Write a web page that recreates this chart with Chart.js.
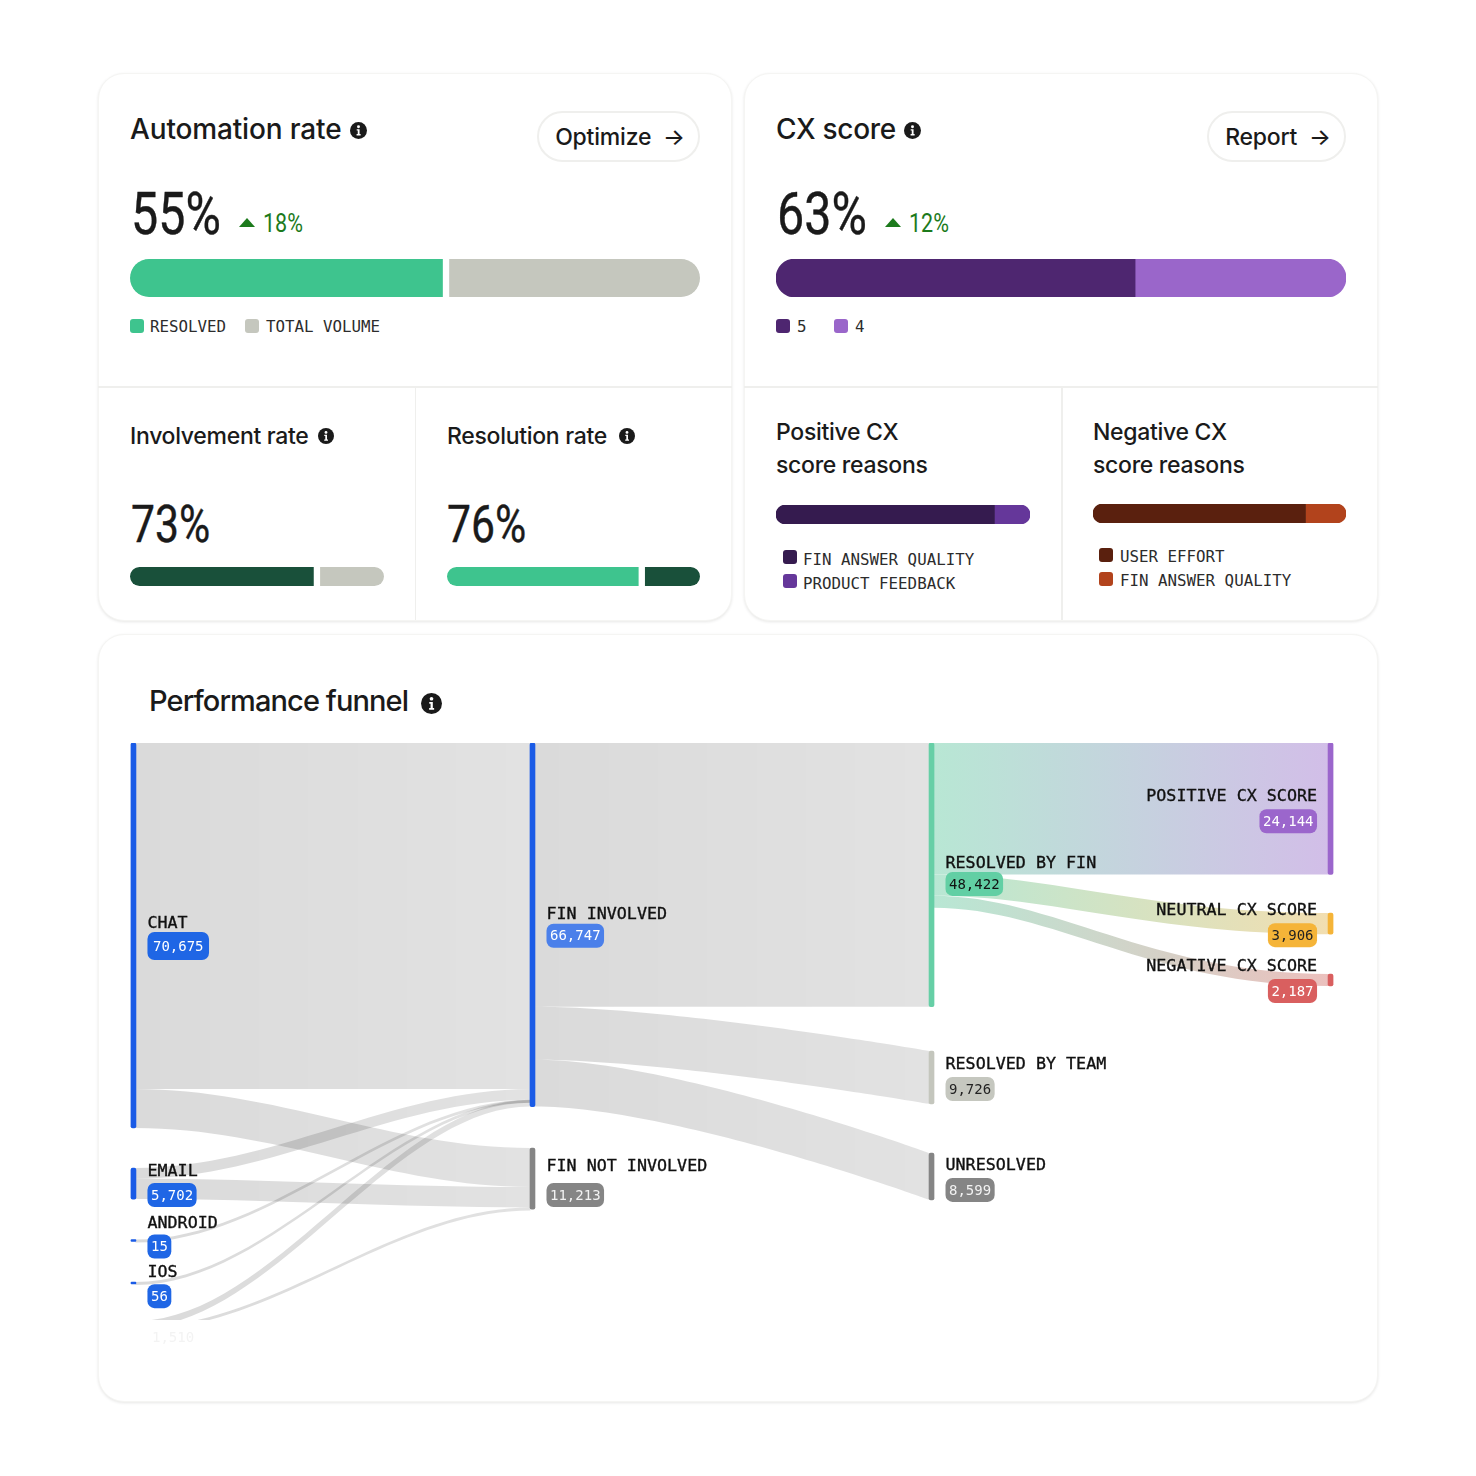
<!DOCTYPE html>
<html>
<head>
<meta charset="utf-8">
<script src="https://cdn.jsdelivr.net/npm/chart.js@4/dist/chart.umd.min.js"></script>
<style>
  html, body { margin: 0; background: #fff; }
  #page { position: relative; width: 1476px; height: 1476px; overflow: hidden; color: #1a1a1a; font-family: Inter, sans-serif; }
  .card { position: absolute; background: #fff; border-radius: 26px; border: 1px solid #f5f5f3; box-sizing: border-box;
          box-shadow: 0 1px 3px rgba(20,20,10,.10); }
  .line { position: absolute; background: #efefed; }
  .t { position: absolute; white-space: nowrap; }
  .title { font-weight: 500; font-size: 28px; line-height: 34px; letter-spacing: -.15px; }
  .sub { font-weight: 500; font-size: 23px; line-height: 33px; letter-spacing: -.3px; }
  .big { font-family: Roboto, sans-serif; font-weight: 400; transform-origin: left center; transform: scaleX(.82); -webkit-text-stroke: .4px #1a1a1a; }
  .delta { font-family: Roboto, sans-serif; font-weight: 400; font-size: 25px; line-height: 30px; color: #1c7a1c;
           transform-origin: left center; transform: scaleX(.86); }
  .btn { position: absolute; box-sizing: border-box; height: 51px; padding-left: 3px; border: 2px solid #efefed; border-radius: 26px; background: #fff;
         font-weight: 500; font-size: 23px; line-height: 48px; text-align: center; letter-spacing: -.2px; white-space: nowrap; }
  .sw { position: absolute; width: 14px; height: 14px; border-radius: 3px; }
  .lg { position: absolute; white-space: nowrap; font-family: "DejaVu Sans Mono", monospace; font-size: 15.8px; line-height: 18px; color: #2c2c2c; }
  canvas { position: absolute; }
  svg { position: absolute; }
</style>
</head>
<body>
<div id="page">
  <div class="card" style="left:98px;top:73px;width:634px;height:548px"></div>
  <div class="card" style="left:744px;top:73px;width:634px;height:548px"></div>
  <div class="card" style="left:98px;top:634px;width:1280px;height:768px"></div>

  <div class="line" style="left:98px;top:386px;width:634px;height:2px"></div>
  <div class="line" style="left:744px;top:386px;width:634px;height:2px"></div>
  <div class="line" style="left:415px;top:388px;width:1px;height:232px"></div>
  <div class="line" style="left:1061px;top:388px;width:2px;height:232px"></div>

  <div class="t title" style="left:130px;top:112px">Automation rate</div>
  <div class="t title" style="left:776px;top:112px;letter-spacing:-.3px">CX score</div>
  <div class="btn" style="left:537px;top:111px;width:163px">Optimize&nbsp; →</div>
  <div class="btn" style="left:1207px;top:111px;width:139px">Report&nbsp; →</div>

  <div class="t big" style="left:131px;top:180px;font-size:59px;line-height:68px">55%</div>
  <div class="t big" style="left:777px;top:180px;font-size:59px;line-height:68px">63%</div>
  <div class="t delta" style="left:263px;top:209px">18%</div>
  <div class="t delta" style="left:909px;top:209px">12%</div>

  <div class="t sub" style="left:130px;top:420px">Involvement rate</div>
  <div class="t sub" style="left:447px;top:420px">Resolution rate</div>
  <div class="t sub" style="left:776px;top:416px">Positive CX</div>
  <div class="t sub" style="left:776px;top:449px">score reasons</div>
  <div class="t sub" style="left:1093px;top:416px">Negative CX</div>
  <div class="t sub" style="left:1093px;top:449px">score reasons</div>

  <div class="t big" style="left:131px;top:495px;font-size:52px;line-height:60px">73%</div>
  <div class="t big" style="left:447px;top:495px;font-size:52px;line-height:60px">76%</div>

  <div class="t title" style="left:149px;top:684px;letter-spacing:-.9px;font-size:29px">Performance funnel</div>

  <canvas id="automationBar" style="left:130px;top:259px"></canvas>
  <canvas id="cxBar" style="left:776px;top:259px"></canvas>
  <canvas id="involvementBar" style="left:130px;top:567px"></canvas>
  <canvas id="resolutionBar" style="left:447px;top:567px"></canvas>
  <canvas id="positiveBar" style="left:776px;top:505px"></canvas>
  <canvas id="negativeBar" style="left:1093px;top:504px"></canvas>
  <canvas id="funnel" style="left:98px;top:634px"></canvas>
</div>

<script>
// ---- top cards: share of each bar
const automationShares = [55, 45];
const automationLabels = ["RESOLVED", "TOTAL VOLUME"];
const cxShares = [63, 37];
const cxLabels = ["5", "4"];
const involvementShares = [73, 27];
const resolutionShares = [76, 24];
const positiveShares = [86, 14];
const positiveLabels = ["FIN ANSWER QUALITY", "PRODUCT FEEDBACK"];
const negativeShares = [84, 16];
const negativeLabels = ["USER EFFORT", "FIN ANSWER QUALITY"];

// ---- funnel nodes (tops are in conversations)
const nodeNames = ["CHAT", "EMAIL", "ANDROID", "IOS", "", "FIN INVOLVED", "FIN NOT INVOLVED",
    "RESOLVED BY FIN", "RESOLVED BY TEAM", "UNRESOLVED", "POSITIVE CX SCORE", "NEUTRAL CX SCORE", "NEGATIVE CX SCORE"];
const nodeColumns = [0, 0, 0, 0, 0, 1, 1, 2, 2, 2, 3, 3, 3];
const nodeValues = [70675, 5702, 15, 56, 1510, 66747, 11213, 48422, 9726, 8599, 24144, 3906, 2187];
const nodeTops = [0, 78025, 91151, 98954, 106113, 0, 74353, 0, 56545, 75270, 0, 31210, 42409];

// ---- funnel links (indexes into the node arrays)
const linkSources = [0, 0, 1, 1, 2, 3, 4, 4, 5, 5, 5, 7, 7, 7];
const linkTargets = [5, 6, 5, 6, 5, 5, 5, 6, 7, 8, 9, 10, 11, 12];
const linkValues = [63520, 7155, 1956, 3746, 15, 56, 1200, 310, 48422, 9726, 8599, 24144, 3906, 2187];

// styles
const GREEN = "#3ec48e", STONE = "#c5c7be", FOREST = "#19503a";
const BLUE = "#1a5be6";
const nodeColors = [BLUE, BLUE, BLUE, BLUE, BLUE, BLUE, "#858585", "#66cfa6", "#c4c6bd", "#858585", "#9b66cc", "#f5b438", "#d95f5f"];
const badgeColors = ["#1f66e5", "#1f66e5", "#1f66e5", "#1f66e5", "", "#4b80ea", "#858585", "#62cfa4", "#c5c7bf", "#858585", "#9b66cc", "#f5b438", "#d95f5f"];
const badgeInk = ["#fff", "#fff", "#fff", "#fff", "#f3f3f3", "#fff", "#f2f2f2", "#111", "#222", "#f2f2f2", "#fff", "#222", "#fff"];
const linkEndTint = { 10: "#d2bee8", 11: "#f2deb0", 12: "#ebc0bd" };
// label and badge offset from the node's middle, px
const labelOffsets = [-12.5, -12.5, -17, -10, 0, -11, -13, -12.5, -13.5, -11.5, -13, -13.5, -14.5];
const badgeOffsets = [10.5, 11.5, 7, 14, 0, 11, 16.5, 9, 11.5, 13.5, 12.5, 11.5, 11];

const MIN_LINK_PX = 3;
const MONO = '"DejaVu Sans Mono", monospace';

function addLegend(labels, colors, items, textDy) {
    const page = document.getElementById("page");
    labels.forEach((label, i) => {
        const sw = document.createElement("div");
        sw.className = "sw";
        sw.style.cssText = `left:${items[i][0]}px;top:${items[i][1]}px;background:${colors[i]}`;
        page.appendChild(sw);
        const text = document.createElement("div");
        text.className = "lg";
        text.textContent = label;
        text.style.cssText = `left:${items[i][0] + items[i][2]}px;top:${items[i][1] - 2 + textDy}px`;
        page.appendChild(text);
    });
}

function addInfoIcon(cx, cy, r) {
    const ns = "http://www.w3.org/2000/svg";
    const svg = document.createElementNS(ns, "svg");
    svg.setAttribute("width", r * 2);
    svg.setAttribute("height", r * 2);
    svg.setAttribute("viewBox", "0 0 16 16");
    svg.style.left = (cx - r) + "px";
    svg.style.top = (cy - r) + "px";
    svg.innerHTML = '<circle cx="8" cy="8" r="8" fill="#1a1a1a"/><circle cx="8" cy="4.4" r="1.4" fill="#fff"/>' +
        '<path d="M6.3 6.8h2.7v4.6h1v1.3H6.2v-1.3h1.1V8.1h-1z" fill="#fff"/>';
    document.getElementById("page").appendChild(svg);
}

function addTriangle(x, y) {
    const ns = "http://www.w3.org/2000/svg";
    const svg = document.createElementNS(ns, "svg");
    svg.setAttribute("width", 16);
    svg.setAttribute("height", 9);
    svg.style.left = x + "px";
    svg.style.top = y + "px";
    svg.innerHTML = '<path d="M8 0L16 9H0z" fill="#1c7a1c"/>';
    document.getElementById("page").appendChild(svg);
}

// one stacked pill. gaps are the white slit on each side of the split
function makePill(id, width, height, shares, colors, gaps) {
    const canvas = document.getElementById(id);
    canvas.width = width;
    canvas.height = height;
    const r = height / 2;
    new Chart(canvas, {
        type: "bar",
        data: {
            labels: [""],
            datasets: [
                { data: [shares[0]], backgroundColor: colors[0], borderColor: "#fff", borderSkipped: false,
                  borderWidth: { left: 0, right: gaps[0], top: 0, bottom: 0 },
                  borderRadius: { topLeft: r, bottomLeft: r, topRight: 0, bottomRight: 0 } },
                { data: [shares[1]], backgroundColor: colors[1], borderColor: "#fff", borderSkipped: false,
                  borderWidth: { left: gaps[1], right: 0, top: 0, bottom: 0 },
                  borderRadius: { topLeft: 0, bottomLeft: 0, topRight: r, bottomRight: r } },
            ],
        },
        options: {
            indexAxis: "y",
            responsive: false,
            animation: false,
            barPercentage: 1,
            categoryPercentage: 1,
            layout: { padding: 0 },
            plugins: { legend: { display: false }, tooltip: { enabled: false } },
            scales: {
                x: { stacked: true, display: false, min: 0, max: 100 },
                y: { stacked: true, display: false },
            },
        },
    });
}

function ribbonEdge(ctx, x0, y0, x1, y1, c1, c2) {
    const w = x1 - x0;
    ctx.bezierCurveTo(x0 + w * c1, y0, x0 + w * c2, y1, x1, y1);
}

const linksPlugin = {
    id: "links",
    beforeDatasetsDraw(chart) {
        const { ctx, chartArea, scales: { x, y } } = chart;
        const pxPerValue = Math.abs(y.getPixelForValue(1000) - y.getPixelForValue(0)) / 1000;
        const outUsed = nodeValues.map(() => 0);
        const inUsed = nodeValues.map(() => 0);

        ctx.save();
        ctx.beginPath();
        ctx.rect(chartArea.left, chartArea.top, chartArea.width, chartArea.height);
        ctx.clip();
        linkValues.forEach((value, i) => {
            const s = linkSources[i], t = linkTargets[i];
            const x0 = x.getPixelForValue(nodeColumns[s]) + 2;
            const x1 = x.getPixelForValue(nodeColumns[t]) - 2;
            const y0 = y.getPixelForValue(nodeTops[s] + outUsed[s]);
            const y1 = y.getPixelForValue(nodeTops[t] + inUsed[t]);
            const h = Math.max(value * pxPerValue, MIN_LINK_PX);
            outUsed[s] += value;
            inUsed[t] += value;

            // the curve eases differently per stage in the original
            const col = nodeColumns[s];
            const c1 = col == 0 ? 0.35 : col == 1 ? 0.35 : 0.3;
            const c2 = col == 0 ? 0.65 : col == 1 ? 1 : 0.55;

            const grad = ctx.createLinearGradient(x0, 0, x1, 0);
            if (col == 2) {
                grad.addColorStop(0, "#b8e7d4");
                grad.addColorStop(1, linkEndTint[t]);
            } else {
                grad.addColorStop(0, "rgba(0,0,0,.145)");
                grad.addColorStop(1, "rgba(0,0,0,.115)");
            }
            ctx.fillStyle = grad;
            ctx.beginPath();
            ctx.moveTo(x0, y0);
            ribbonEdge(ctx, x0, y0, x1, y1, c1, c2);
            ctx.lineTo(x1, y1 + h);
            ribbonEdge(ctx, x1, y1 + h, x0, y0 + h, 1 - c2, 1 - c1);
            ctx.closePath();
            ctx.fill();
        });
        ctx.restore();
    },
    afterDatasetsDraw(chart) {
        const { ctx, scales: { x, y } } = chart;
        ctx.save();
        ctx.textBaseline = "middle";
        nodeNames.forEach((name, i) => {
            const text = nodeValues[i].toLocaleString("en-US");
            const top = y.getPixelForValue(nodeTops[i]);
            const bottom = y.getPixelForValue(nodeTops[i] + nodeValues[i]);
            const mid = (top + bottom) / 2;
            const nx = x.getPixelForValue(nodeColumns[i]);
            const rightSide = nodeColumns[i] == 3;

            if (name == "") {
                // node below the fold, only its faded value still shows
                ctx.font = `14px ${MONO}`;
                ctx.fillStyle = badgeInk[i];
                ctx.textAlign = "left";
                ctx.fillText(text, nx + 18.5, 704);
                return;
            }

            ctx.font = `16.7px ${MONO}`;
            ctx.fillStyle = "#111";
            ctx.strokeStyle = "#111";
            ctx.lineWidth = 0.35;
            ctx.textAlign = rightSide ? "right" : "left";
            const ax = rightSide ? nx - 13.5 : nx + 14;
            ctx.fillText(name, ax, mid + labelOffsets[i] + 1);
            ctx.strokeText(name, ax, mid + labelOffsets[i] + 1);

            ctx.font = `14px ${MONO}`;
            const big = name == "CHAT";
            const w = ctx.measureText(text).width + 7 + (big ? 4 : 0);
            const h = big ? 28 : 24;
            const bx = rightSide ? ax - w : ax;
            const by = mid + badgeOffsets[i] - h / 2;
            ctx.fillStyle = badgeColors[i];
            ctx.beginPath();
            ctx.roundRect(bx, by, w, h, 7);
            ctx.fill();
            ctx.fillStyle = badgeInk[i];
            ctx.textAlign = "left";
            ctx.fillText(text, bx + (w - ctx.measureText(text).width) / 2, by + h / 2 + 1);
        });
        ctx.restore();
    },
};

function makeFunnel() {
    const canvas = document.getElementById("funnel");
    canvas.width = 1280;
    canvas.height = 768;
    new Chart(canvas, {
        type: "bar",
        data: {
            datasets: [{
                data: nodeNames.map((_, i) => ({ x: nodeColumns[i], y: [nodeTops[i], nodeTops[i] + nodeValues[i]] })),
                backgroundColor: nodeColors,
                barThickness: 5,
                minBarLength: 2,
                borderRadius: 2,
                borderSkipped: false,
            }],
        },
        options: {
            responsive: false,
            animation: false,
            layout: { padding: { left: 15.5, right: 27.5, top: 109, bottom: 82 } },
            plugins: { legend: { display: false }, tooltip: { enabled: false } },
            scales: {
                x: { type: "linear", offset: false, display: false, min: -0.05, max: 3.05 },
                y: { display: false, reverse: true, min: 0, max: 105930 },
            },
        },
        plugins: [linksPlugin],
    });
}

Chart.defaults.font.family = "Inter, sans-serif";

makePill("automationBar", 570, 38, automationShares, [GREEN, STONE], [1, 6]);
makePill("cxBar", 570, 38, cxShares, ["#4e2670", "#9a66ca"], [0, 0]);
makePill("involvementBar", 254, 19, involvementShares, [FOREST, STONE], [2, 5]);
makePill("resolutionBar", 253, 19, resolutionShares, [GREEN, FOREST], [1, 6]);
makePill("positiveBar", 254, 19, positiveShares, ["#351b4f", "#65379a"], [0, 0]);
makePill("negativeBar", 253, 19, negativeShares, ["#5a200e", "#b2431c"], [0, 0]);
makeFunnel();

addLegend(automationLabels, [GREEN, STONE], [[130, 319, 20], [245, 319, 21]], 1);
addLegend(cxLabels, ["#4e2670", "#9a66ca"], [[776, 319, 21], [834, 319, 21]], 1);
addLegend(positiveLabels, ["#351b4f", "#65379a"], [[783, 550, 20], [783, 574, 20]], 3);
addLegend(negativeLabels, ["#5a200e", "#b2431c"], [[1099, 548, 21], [1099, 572, 21]], 2);

addInfoIcon(358, 130, 8.5);
addInfoIcon(912, 130, 8.5);
addInfoIcon(325.5, 435.5, 8);
addInfoIcon(626.5, 435.5, 8);
addInfoIcon(431, 703, 10.5);
addTriangle(239, 218);
addTriangle(885, 218);
</script>
</body>
</html>
